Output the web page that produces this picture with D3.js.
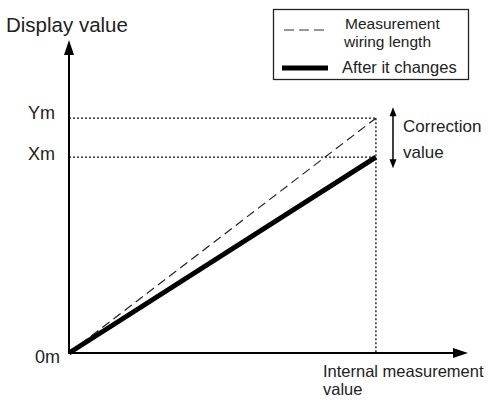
<!DOCTYPE html>
<html>
<head>
<meta charset="utf-8">
<script src="https://cdn.jsdelivr.net/npm/d3@7"></script>
<style>
  body { margin: 0; background: #fff; }
  svg { display: block; font-family: "Liberation Sans", Arial, sans-serif; }
</style>
</head>
<body>
<div id="chart"></div>
<script>
// data
const tickLabels = ["0m", "Xm", "Ym"]
const tickValues = [0, 0.834, 1]
const measuredX = [0, 1]
const measuredY = [0, 1]          // measurement wiring length
const changedY = [0, 0.834]       // after it changes
const legendLabels = [["Measurement", "wiring length"], ["After it changes"]]

const width = 489, height = 401

const svg = d3.select("#chart").append("svg")
    .attr("width", width)
    .attr("height", height)

const x = d3.scaleLinear().domain([0, 1.3]).range([69, 468])
const y = d3.scaleLinear().domain([0, 1.333]).range([353, 40])

// dotted guide lines
const dot = svg.append("g")
    .attr("stroke", "#111")
    .attr("stroke-width", 1.3)
    .attr("stroke-dasharray", "2,2")
dot.append("line")
    .attr("x1", x(0)).attr("x2", x(measuredX[1]))
    .attr("y1", y(tickValues[2])).attr("y2", y(tickValues[2]))
dot.append("line")
    .attr("x1", x(0)).attr("x2", x(measuredX[1]))
    .attr("y1", y(tickValues[1])).attr("y2", y(tickValues[1]))
dot.append("line")
    .attr("x1", x(measuredX[1])).attr("x2", x(measuredX[1]))
    .attr("y1", y(tickValues[2])).attr("y2", y(0))

// series lines
const line = d3.line().x((d, i) => x(measuredX[i])).y(d => y(d))
svg.append("path")
    .attr("d", line(measuredY))
    .attr("fill", "none")
    .attr("stroke", "#222")
    .attr("stroke-width", 1.2)
    .attr("stroke-dasharray", "9,5")
svg.append("path")
    .attr("d", line(changedY))
    .attr("fill", "none")
    .attr("stroke", "#000")
    .attr("stroke-width", 5)

// axes with arrows
const axes = svg.append("g").attr("stroke", "#000").attr("stroke-width", 2)
axes.append("line")
    .attr("x1", x(0)).attr("x2", x(0))
    .attr("y1", y(0) + 1).attr("y2", y.range()[1] + 12)
axes.append("line")
    .attr("x1", x(0) - 1).attr("x2", x.range()[1] - 12)
    .attr("y1", y(0)).attr("y2", y(0))
svg.append("path")
    .attr("d", `M${x(0)},${y.range()[1]} L${x(0) - 5},${y.range()[1] + 15} L${x(0) + 5},${y.range()[1] + 15}Z`)
    .attr("fill", "#000")
svg.append("path")
    .attr("d", `M${x.range()[1]},${y(0)} L${x.range()[1] - 15},${y(0) - 5} L${x.range()[1] - 15},${y(0) + 5}Z`)
    .attr("fill", "#000")

// tick labels
svg.append("g")
    .selectAll("text")
    .data(tickLabels)
    .join("text")
        .attr("x", (d, i) => i === 0 ? 60 : 55)
        .attr("y", (d, i) => y(tickValues[i]) + (i === 0 ? 10 : i === 1 ? 3 : 1))
        .attr("text-anchor", "end")
        .attr("font-size", 18)
        .attr("fill", "#222")
        .text(d => d)

// axis titles
svg.append("text")
    .attr("x", 6).attr("y", 32)
    .attr("font-size", 20.5)
    .attr("fill", "#222")
    .text("Display value")

svg.append("text")
    .attr("x", 323).attr("y", 377)
    .attr("font-size", 16.5)
    .attr("fill", "#222")
    .text("Internal measurement")
svg.append("text")
    .attr("x", 323).attr("y", 395)
    .attr("font-size", 16.5)
    .attr("fill", "#222")
    .text("value")

// correction value arrow
const cx = 393
svg.append("line")
    .attr("x1", cx).attr("x2", cx)
    .attr("y1", y(tickValues[2]) - 6).attr("y2", y(tickValues[1]) + 6)
    .attr("stroke", "#000").attr("stroke-width", 1.5)
svg.append("path")
    .attr("d", `M${cx},${y(tickValues[2]) - 11} L${cx - 3.5},${y(tickValues[2]) - 2} L${cx + 3.5},${y(tickValues[2]) - 2}Z`)
    .attr("fill", "#000")
svg.append("path")
    .attr("d", `M${cx},${y(tickValues[1]) + 11} L${cx - 3.5},${y(tickValues[1]) + 2} L${cx + 3.5},${y(tickValues[1]) + 2}Z`)
    .attr("fill", "#000")
svg.append("text")
    .attr("x", 403).attr("y", 132)
    .attr("font-size", 17)
    .attr("fill", "#222")
    .text("Correction")
svg.append("text")
    .attr("x", 403).attr("y", 158)
    .attr("font-size", 17)
    .attr("fill", "#222")
    .text("value")

// legend
const legend = svg.append("g")
legend.append("rect")
    .attr("x", 273.5).attr("y", 9.5)
    .attr("width", 195).attr("height", 70)
    .attr("fill", "#fff").attr("stroke", "#222").attr("stroke-width", 1.3)
legend.append("line")
    .attr("x1", 284).attr("x2", 328).attr("y1", 30).attr("y2", 30)
    .attr("stroke", "#333").attr("stroke-width", 1.2).attr("stroke-dasharray", "10,5")
legend.append("line")
    .attr("x1", 282).attr("x2", 328).attr("y1", 68).attr("y2", 68)
    .attr("stroke", "#000").attr("stroke-width", 5)
legend.append("text")
    .attr("x", 345).attr("y", 28.5)
    .attr("font-size", 15.5)
    .attr("fill", "#222")
    .text(legendLabels[0][0])
legend.append("text")
    .attr("x", 344).attr("y", 46.5)
    .attr("font-size", 15.5)
    .attr("fill", "#222")
    .text(legendLabels[0][1])
legend.append("text")
    .attr("x", 342).attr("y", 73)
    .attr("font-size", 16.5)
    .attr("fill", "#222")
    .text(legendLabels[1][0])
</script>
</body>
</html>
